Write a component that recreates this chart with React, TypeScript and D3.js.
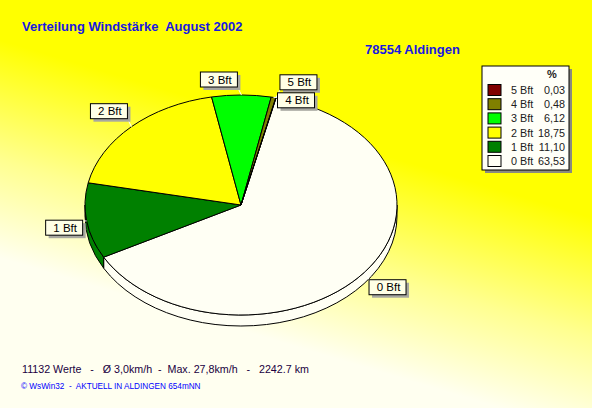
import React from "react";
import * as d3 from "d3";

const categories = ["0 Bft", "1 Bft", "2 Bft", "3 Bft", "4 Bft", "5 Bft"];
const percents = [63.53, 11.1, 18.75, 6.12, 0.48, 0.03];
const percentLabels = ["63,53", "11,10", "18,75", "6,12", "0,48", "0,03"];
const colors = ["#FFFFF4", "#008000", "#FFFF00", "#00FF00", "#808000", "#800000"];
const titleText = "Verteilung Windstärke  August 2002";
const stationText = "78554 Aldingen";
const footerText = "11132 Werte   -   Ø 3,0km/h  -  Max. 27,8km/h   -   2242.7 km";
const creditText = "© WsWin32  -  AKTUELL IN ALDINGEN 654mNN";

const W = 592;
const H = 408;
const cx = 241;
const cy = 205;
const rx = 156;
const ry = 110;
const depth = 11;
const startDeg = 13;
const FONT = "'Liberation Sans', Arial, sans-serif";

const pt = (a: number, dy = 0): [number, number] => [cx + rx * Math.sin(a), cy - ry * Math.cos(a) + dy];

export default function App() {
  const pie = d3
    .pie<number>()
    .sort(null)
    .value((d) => d)
    .startAngle((startDeg * Math.PI) / 180)
    .endAngle((startDeg * Math.PI) / 180 + 2 * Math.PI);
  const arcs = pie(percents);

  const topPath = (a0: number, a1: number) => {
    const p0 = pt(a0);
    const p1 = pt(a1);
    const large = a1 - a0 > Math.PI ? 1 : 0;
    return `M${cx},${cy}L${p0[0]},${p0[1]}A${rx},${ry} 0 ${large} 1 ${p1[0]},${p1[1]}Z`;
  };

  const sides: { d: string; color: string; key: string }[] = [];
  arcs.forEach((a, i) => {
    [0, 2 * Math.PI].forEach((k) => {
      const s = Math.max(a.startAngle, Math.PI / 2 + k);
      const e = Math.min(a.endAngle, (3 * Math.PI) / 2 + k);
      if (e > s) {
        const p0 = pt(s);
        const p1 = pt(e);
        const q1 = pt(e, depth);
        const q0 = pt(s, depth);
        const large = e - s > Math.PI ? 1 : 0;
        sides.push({
          key: `${i}-${k}`,
          color: colors[i],
          d: `M${p0[0]},${p0[1]}A${rx},${ry} 0 ${large} 1 ${p1[0]},${p1[1]}L${q1[0]},${q1[1]}A${rx},${ry} 0 ${large} 0 ${q0[0]},${q0[1]}Z`,
        });
      }
    });
  });

  const bw = 37;
  const bh = 15;
  type Lab = { i: number; ax: number; ay: number; bx: number; by: number };
  const placed: Lab[] = [];
  const hits = (bx: number, by: number) =>
    placed.find((p) => bx < p.bx + bw && bx + bw > p.bx && by < p.by + bh + 2 && by + bh + 2 > p.by);
  for (let i = arcs.length - 1; i >= 0; i--) {
    const a = arcs[i];
    const m = (a.startAngle + a.endAngle) / 2;
    const [ax, ay] = pt(m);
    const sx = Math.sin(m) > 0.05 ? 1 : -1;
    const c = Math.max(-1, Math.min(1, Math.cos(m) * 3));
    const lcy = ay - c * (bh / 2 + 8);
    let by = lcy - bh / 2;
    const bx = ax + sx * (bw / 2 + 4 + Math.max(0, -Math.cos(m * 1) * 0) ) - bw / 2;
    let h = hits(bx, by);
    while (h) {
      by = h.by + bh + 3;
      h = hits(bx, by);
    }
    placed.push({ i, ax, ay, bx, by });
  }

  const legendX = 482;
  const legendY = 66;
  const legendW = 87;
  const legendH = 104;
  const rowY = (k: number) => 90 + k * 14.2;
  const legendOrder = d3.range(categories.length).reverse();

  return (
    <svg width={W} height={H} style={{ position: "absolute", left: 0, top: 0, display: "block" }}>
      <defs>
        <linearGradient id="bg" gradientUnits="userSpaceOnUse" x1={0} y1={40} x2={-60} y2={240}>
          <stop offset="0" stopColor="#FFFF00" />
          <stop offset="0.55" stopColor="#FFFF90" />
          <stop offset="1" stopColor="#FFFFF0" />
        </linearGradient>
      </defs>
      <rect x={0} y={0} width={W} height={H} fill="url(#bg)" />

      <text x={22} y={30.5} fontFamily={FONT} fontSize={13} fontWeight="bold" fill="#1818E0" style={{ whiteSpace: "pre" }}>
        {titleText}
      </text>
      <text x={365} y={54} fontFamily={FONT} fontSize={13} fontWeight="bold" fill="#1818E0">
        {stationText}
      </text>

      {sides.map((s) => (
        <path key={s.key} d={s.d} fill={s.color} stroke="#000" strokeWidth={1} strokeLinejoin="round" />
      ))}
      {arcs.map((a, i) => (
        <path key={i} d={topPath(a.startAngle, a.endAngle)} fill={colors[i]} stroke="#000" strokeWidth={1} strokeLinejoin="round" />
      ))}

      {placed.map((l) => {
        const nx = Math.max(l.bx, Math.min(l.bx + bw, l.ax));
        const ny = Math.max(l.by, Math.min(l.by + bh, l.ay));
        return (
          <g key={l.i}>
            <line x1={l.ax} y1={l.ay} x2={nx} y2={ny} stroke="#FFFFFF" strokeWidth={1} />
            <rect x={l.bx + 3} y={l.by + 3} width={bw} height={bh} fill="#A8A8A0" />
            <rect x={l.bx} y={l.by} width={bw} height={bh} fill="#FFFFE6" stroke="#000" strokeWidth={1} />
            <text x={l.bx + bw / 2 + 1} y={l.by + 11.5} textAnchor="middle" fontFamily={FONT} fontSize={11.5} fill="#000">
              {categories[l.i]}
            </text>
          </g>
        );
      })}

      <rect x={legendX + 3} y={legendY + 3} width={legendW} height={legendH} fill="#8A8A80" />
      <rect x={legendX} y={legendY} width={legendW} height={legendH} fill="#FFFFF8" stroke="#000" strokeWidth={1} />
      <text x={552} y={78} textAnchor="middle" fontFamily={FONT} fontSize={11} fontWeight="bold" fill="#202020">
        %
      </text>
      {legendOrder.map((i, k) => (
        <g key={i}>
          <rect x={488} y={rowY(k) - 5.5} width={13} height={11} fill={colors[i]} stroke="#000" strokeWidth={1} />
          <text x={511} y={rowY(k) + 4} fontFamily={FONT} fontSize={10.8} fill="#202020">
            {categories[i]}
          </text>
          <text x={565} y={rowY(k) + 4} textAnchor="end" fontFamily={FONT} fontSize={10.8} fill="#202020">
            {percentLabels[i]}
          </text>
        </g>
      ))}

      <text x={22} y={373} fontFamily={FONT} fontSize={10.7} fill="#200040" style={{ whiteSpace: "pre" }}>
        {footerText}
      </text>
      <text x={21} y={389} fontFamily={FONT} fontSize={8.2} fill="#0000FF" style={{ whiteSpace: "pre" }}>
        {creditText}
      </text>
    </svg>
  );
}
